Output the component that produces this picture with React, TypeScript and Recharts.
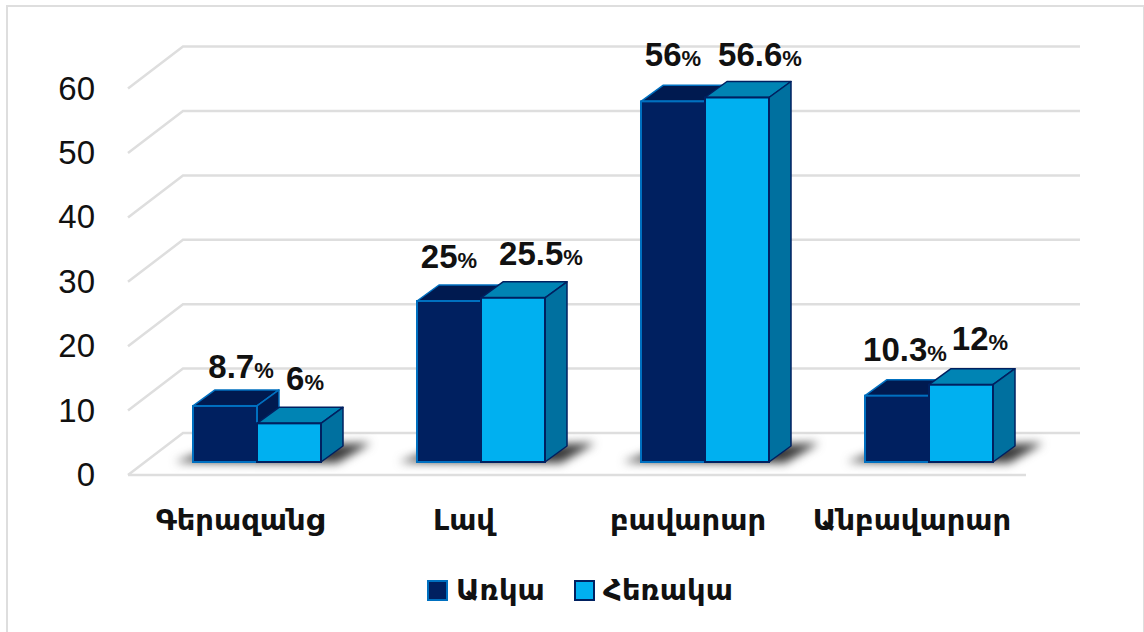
import React from "react";
import { BarChart, Bar, XAxis, YAxis, Legend, LabelList, CartesianGrid } from "recharts";

const categories = ["Գերազանց", "Լավ", "բավարար", "Անբավարար"];
const inPersonName = "Առկա";
const remoteName = "Հեռակա";
const inPerson = [8.7, 25, 56, 10.3];
const remote = [6, 25.5, 56.6, 12];
const valueTicks = [0, 10, 20, 30, 40, 50, 60];

// hand-placement of value labels, as in the source slide
const inPersonNudge = [[16, -39], [0, -44], [0, -46], [8, -46]];
const remoteNudge = [[16, -44], [28, -44], [23, -42], [19, -46]];

const rows = categories.map((name, i) => ({ name, inPerson: inPerson[i], remote: remote[i] }));

const GRID = "#DEDEDE";
const DX = 22;
const DY = 16;
const LABEL_FONT = "'DejaVu Sans', sans-serif";
const NUM_FONT = "'Liberation Sans', Arial, sans-serif";

const palette = {
  dark: { front: "#002060", top: "#001A50", side: "#001A50", stroke: "#0070C0" },
  light: { front: "#00B0F0", top: "#0084B4", side: "#00709F", stroke: "#002060" },
};

function Box3D({ x, y, width, height, tone, withShadow }: any) {
  const c = palette[tone as "dark" | "light"];
  const b = y + height;
  const r = x + width;
  return (
    <g>
      {withShadow && (
        <polygon
          points={`${x - 18},${b} ${x + 22},${b - 14} ${x + 2 * width + 50},${b - 19} ${x + 2 * width + 16},${b + 1}`}
          fill="#3a3a3a"
          style={{ filter: "blur(5px)" }}
        />
      )}
      <polygon
        points={`${x},${y} ${x + DX},${y - DY} ${r + DX},${y - DY} ${r},${y}`}
        fill={c.top}
        stroke={c.stroke}
        strokeWidth={1.5}
        strokeLinejoin="round"
      />
      <polygon
        points={`${r},${y} ${r + DX},${y - DY} ${r + DX},${b - DY} ${r},${b}`}
        fill={c.side}
        stroke={c.stroke}
        strokeWidth={1.5}
        strokeLinejoin="round"
      />
      <rect x={x} y={y} width={width} height={height} fill={c.front} stroke={c.stroke} strokeWidth={2} />
    </g>
  );
}

function GridLine({ y1 }: any) {
  const backY = y1 - 29;
  const frontY = y1 + 13;
  return (
    <polyline
      points={`128,${frontY} 183,${backY} 1080,${backY}`}
      fill="none"
      stroke={GRID}
      strokeWidth={2.5}
    />
  );
}

function FloorAwareGridLine(props: any) {
  const isFloor = Math.abs(props.y1 - 462) < 2;
  return (
    <g>
      <GridLine {...props} />
      {isFloor && <line x1={128} y1={props.y1 + 13} x2={1026} y2={props.y1 + 13} stroke={GRID} strokeWidth={2.5} />}
    </g>
  );
}

function ValueTick({ y, payload }: any) {
  return (
    <text x={95} y={y + 24} textAnchor="end" fontFamily={NUM_FONT} fontSize={33} fill="#111">
      {payload.value}
    </text>
  );
}

function CategoryTick({ x, y, payload }: any) {
  return (
    <text x={x - 17} y={y + 60} textAnchor="middle" fontFamily={LABEL_FONT} fontWeight={700} fontSize={29} fill="#111">
      {payload.value}
    </text>
  );
}

function makeValueLabel(nudges: number[][]) {
  return function ValueLabel({ x, y, width, value, index }: any) {
    const [dx, dy] = nudges[index];
    return (
      <text
        x={x + width / 2 + dx}
        y={y + dy + 11}
        textAnchor="middle"
        fontFamily={NUM_FONT}
        fontWeight={700}
        fontSize={33}
        fill="#111"
      >
        {value}
        <tspan fontSize={22}>%</tspan>
      </text>
    );
  };
}

function LegendRow({ payload }: any) {
  const tones = [palette.dark, palette.light];
  return (
    <div style={{ position: "absolute", left: 0, top: 0, whiteSpace: "nowrap" }}>
      {(payload || []).map((p: any, i: number) => (
        <span
          key={p.value}
          style={{
            position: "absolute",
            left: i === 0 ? 427 : 574,
            top: 570,
            display: "flex",
            alignItems: "center",
            gap: 8,
            fontFamily: LABEL_FONT,
            fontWeight: 700,
            fontSize: 29,
            lineHeight: "40px",
            color: "#111",
          }}
        >
          <span
            style={{
              display: "inline-block",
              width: 17,
              height: 17,
              background: tones[i].front,
              border: `2px solid ${tones[i].stroke}`,
            }}
          />
          {p.value}
        </span>
      ))}
    </div>
  );
}

export default function App() {
  return (
    <div style={{ position: "absolute", left: 0, top: 0, width: 1144, height: 632, background: "#fff", overflow: "hidden" }}>
      <div
        style={{
          position: "absolute",
          left: 6,
          top: 5,
          width: 1135,
          height: 640,
          border: `2px solid ${GRID}`,
        }}
      />
      <BarChart
        width={1144}
        height={632}
        data={rows}
        margin={{ top: 75.6, right: 103, bottom: 170 - 40, left: 45 }}
        barSize={64}
        barGap={0}
        style={{ position: "absolute", left: 0, top: 0 }}
      >
        <CartesianGrid vertical={false} horizontal={<FloorAwareGridLine />} horizontalValues={valueTicks} />
        <YAxis
          width={100}
          domain={[0, 60]}
          ticks={valueTicks}
          interval={0}
          axisLine={false}
          tickLine={false}
          tick={<ValueTick />}
        />
        <XAxis dataKey="name" height={40} axisLine={false} tickLine={false} interval={0} tick={<CategoryTick />} />
        <Legend
          content={<LegendRow />}
          height={0}
          wrapperStyle={{ position: "absolute", left: 0, top: 0, width: 0, height: 0, bottom: "auto" }}
        />
        <Bar
          dataKey="inPerson"
          name={inPersonName}
          fill={palette.dark.front}
          isAnimationActive={false}
          shape={(p: any) => <Box3D {...p} tone="dark" withShadow />}
        >
          <LabelList dataKey="inPerson" content={makeValueLabel(inPersonNudge)} />
        </Bar>
        <Bar
          dataKey="remote"
          name={remoteName}
          fill={palette.light.front}
          isAnimationActive={false}
          shape={(p: any) => <Box3D {...p} tone="light" />}
        >
          <LabelList dataKey="remote" content={makeValueLabel(remoteNudge)} />
        </Bar>
      </BarChart>
    </div>
  );
}
